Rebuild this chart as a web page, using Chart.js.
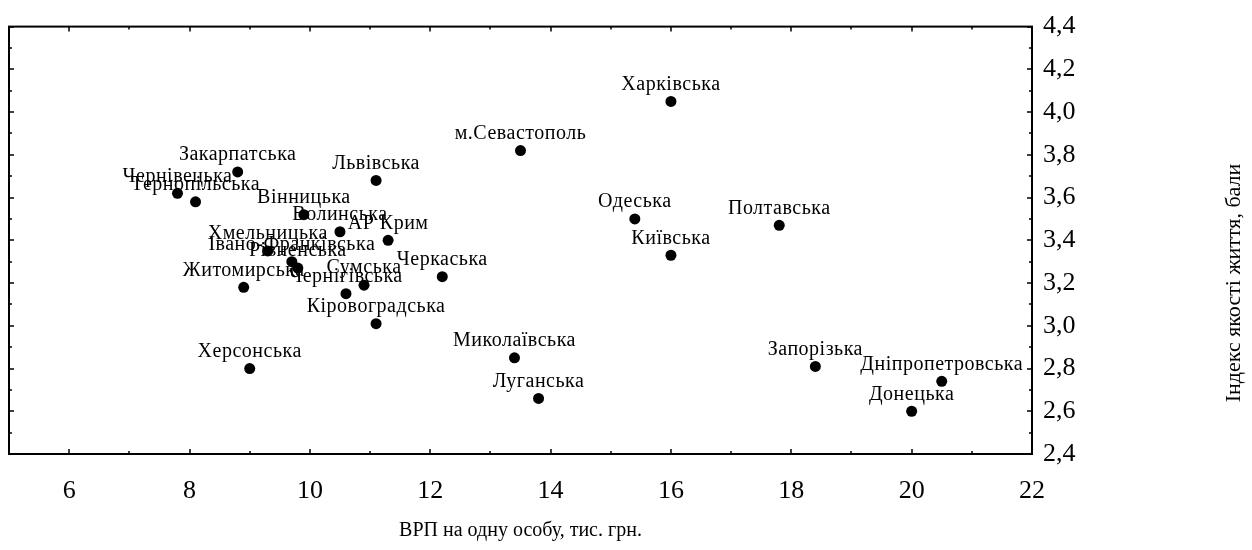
<!DOCTYPE html>
<html lang="uk">
<head>
<meta charset="UTF-8">
<title>ВРП на одну особу та індекс якості життя</title>
<style>
    html, body {
        margin: 0;
        padding: 0;
        background: #ffffff;
        overflow: hidden;
    }
</style>
<script src="https://cdn.jsdelivr.net/npm/chart.js"></script>
</head>
<body>
<canvas id="scatterChart" width="1252" height="550"></canvas>

<script>
    // regions of Ukraine, GRP per person (thous. UAH) and life quality index (points)
    const regions = [
        'Харківська', 'м.Севастополь', 'Закарпатська', 'Львівська', 'Чернівецька',
        'Тернопільська', 'Вінницька', 'Волинська', 'АР Крим', 'Одеська',
        'Полтавська', 'Київська', 'Хмельницька', 'Івано-Франківська', 'Рівненська',
        'Житомирська', 'Сумська', 'Чернігівська', 'Черкаська', 'Кіровоградська',
        'Херсонська', 'Миколаївська', 'Луганська', 'Запорізька', 'Дніпропетровська',
        'Донецька'
    ];
    const grpPerCapita = [
        16.0, 13.5, 8.8, 11.1, 7.8,
        8.1, 9.9, 10.5, 11.3, 15.4,
        17.8, 16.0, 9.3, 9.7, 9.8,
        8.9, 10.9, 10.6, 12.2, 11.1,
        9.0, 13.4, 13.8, 18.4, 20.5,
        20.0
    ];
    const lifeQuality = [
        4.05, 3.82, 3.72, 3.68, 3.62,
        3.58, 3.52, 3.44, 3.40, 3.50,
        3.47, 3.33, 3.35, 3.30, 3.27,
        3.18, 3.19, 3.15, 3.23, 3.01,
        2.80, 2.85, 2.66, 2.81, 2.74,
        2.60
    ];

    const xTicks = [6, 8, 10, 12, 14, 16, 18, 20, 22];
    const xMinorTicks = [7, 9, 11, 13, 15, 17, 19, 21];
    const yTicks = [2.4, 2.6, 2.8, 3.0, 3.2, 3.4, 3.6, 3.8, 4.0, 4.2, 4.4];
    const yMinorTicks = [2.5, 2.7, 2.9, 3.1, 3.3, 3.5, 3.7, 3.9, 4.1, 4.3];

    const xTitle = 'ВРП на одну особу, тис. грн.';
    const yTitle = 'Індекс якості життя, бали';

    const serif = '"Liberation Serif", "Times New Roman", serif';

    // frame with inward ticks on all four sides
    const framePlugin = {
        id: 'frame',
        afterDraw(chart) {
            const { ctx, chartArea: a, scales: { x, y } } = chart;
            ctx.save();
            ctx.strokeStyle = '#000';
            ctx.lineWidth = 2;
            ctx.strokeRect(a.left, a.top, a.right - a.left, a.bottom - a.top);

            ctx.lineWidth = 1.5;
            ctx.beginPath();
            const xt = (v, len) => {
                const px = Math.round(x.getPixelForValue(v));
                ctx.moveTo(px, a.bottom); ctx.lineTo(px, a.bottom - len);
                ctx.moveTo(px, a.top); ctx.lineTo(px, a.top + len);
            };
            const yt = (v, len) => {
                const py = Math.round(y.getPixelForValue(v));
                ctx.moveTo(a.left, py); ctx.lineTo(a.left + len, py);
                ctx.moveTo(a.right, py); ctx.lineTo(a.right - len, py);
            };
            xTicks.forEach(v => xt(v, 5));
            xMinorTicks.forEach(v => xt(v, 3));
            yTicks.forEach(v => yt(v, 5));
            yMinorTicks.forEach(v => yt(v, 3));
            ctx.stroke();

            // axis titles
            ctx.fillStyle = '#000';
            ctx.font = '20px ' + serif;
            ctx.textAlign = 'center';
            ctx.textBaseline = 'middle';
            ctx.fillText(xTitle, (a.left + a.right) / 2, 531);

            ctx.translate(1234, 283);
            ctx.rotate(-Math.PI / 2);
            ctx.font = '22px ' + serif;
            ctx.fillText(yTitle, 0, 0);
            ctx.restore();
        }
    };

    // region names above each point
    const pointLabels = {
        id: 'pointLabels',
        afterDatasetsDraw(chart) {
            const { ctx } = chart;
            const meta = chart.getDatasetMeta(0);
            ctx.save();
            ctx.fillStyle = '#000';
            ctx.font = '20px ' + serif;
            ctx.letterSpacing = '0.5px';
            ctx.textAlign = 'center';
            ctx.textBaseline = 'middle';
            meta.data.forEach((pt, i) => {
                ctx.fillText(regions[i], pt.x, pt.y - 17);
            });
            ctx.restore();
        }
    };

    const ctx = document.getElementById('scatterChart').getContext('2d');
    new Chart(ctx, {
        type: 'scatter',
        data: {
            datasets: [{
                data: grpPerCapita.map((v, i) => ({ x: v, y: lifeQuality[i] })),
                backgroundColor: '#000',
                borderWidth: 0,
                pointRadius: 5.5,
                pointHoverRadius: 5.5
            }]
        },
        options: {
            responsive: false,
            animation: false,
            devicePixelRatio: 1,
            layout: {
                padding: { left: 9, top: 23, right: 0, bottom: 0 }
            },
            plugins: {
                legend: { display: false },
                tooltip: { enabled: false }
            },
            scales: {
                x: {
                    type: 'linear',
                    min: 5,
                    max: 22,
                    grid: { display: false, drawTicks: false },
                    border: { display: false },
                    afterBuildTicks: scale => {
                        scale.ticks = xTicks.map(v => ({ value: v }));
                    },
                    afterFit: scale => { scale.height = 96; },
                    ticks: {
                        padding: 22,
                        color: '#000',
                        maxRotation: 0,
                        font: { family: serif, size: 26 }
                    }
                },
                y: {
                    type: 'linear',
                    position: 'right',
                    min: 2.4,
                    max: 4.4,
                    grid: { display: false, drawTicks: false },
                    border: { display: false },
                    afterBuildTicks: scale => {
                        scale.ticks = yTicks.map(v => ({ value: v }));
                    },
                    afterFit: scale => { scale.width = 220; },
                    ticks: {
                        padding: 11,
                        color: '#000',
                        font: { family: serif, size: 26 },
                        callback: v => Number(v).toFixed(1).replace('.', ',')
                    }
                }
            }
        },
        plugins: [framePlugin, pointLabels]
    });
</script>
</body>
</html>
